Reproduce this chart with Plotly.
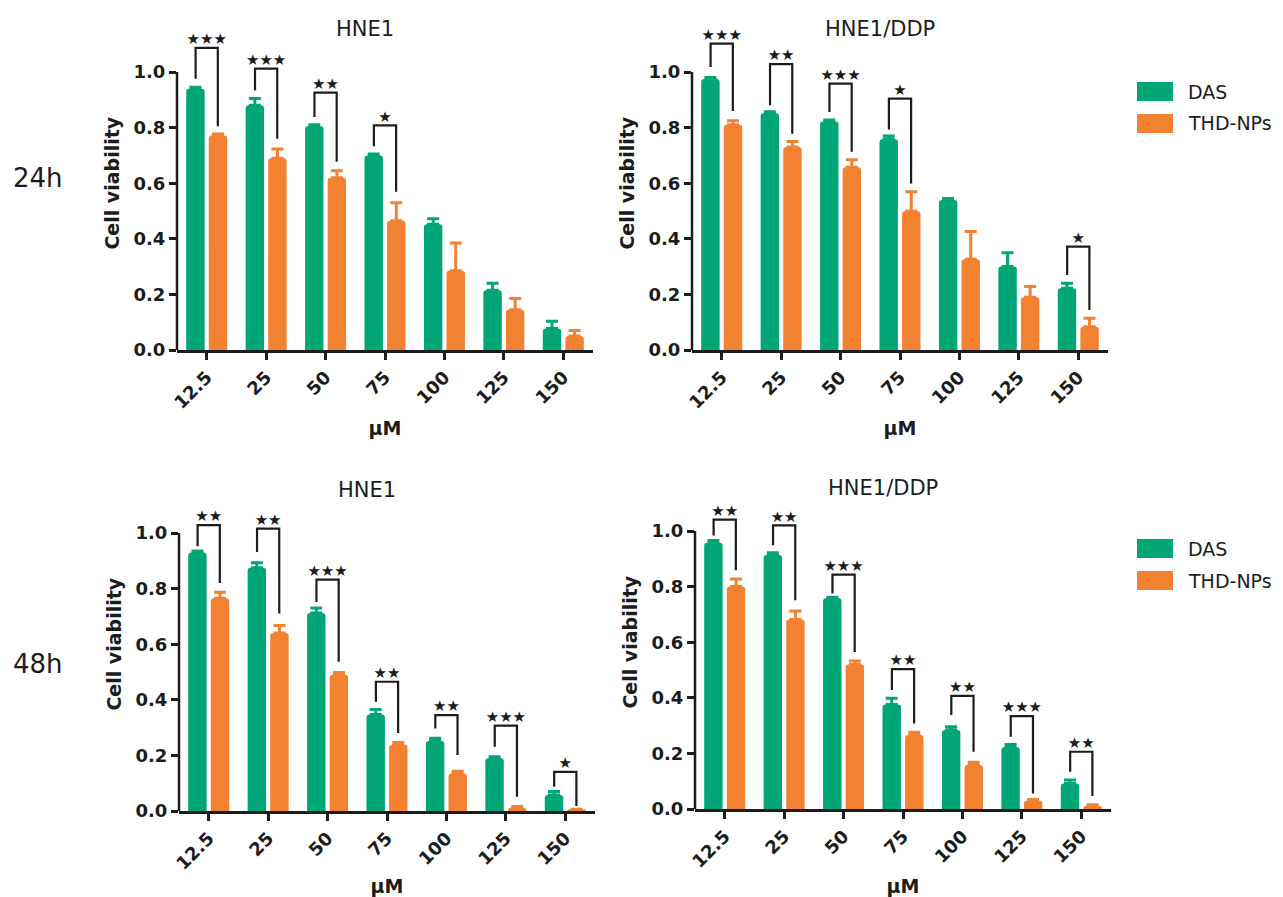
import plotly.graph_objects as go

# Concentrations (µM) on the x axis
conc_labels = ["12.5", "25", "50", "75", "100", "125", "150"]
y_ticks = [0.0, 0.2, 0.4, 0.6, 0.8, 1.0]

# ---- 24 h, HNE1 ----
das_24_hne1 = [0.94, 0.88, 0.805, 0.70, 0.452, 0.215, 0.077]
das_24_hne1_err = [0.005, 0.025, 0.005, 0.005, 0.02, 0.025, 0.026]
thd_24_hne1 = [0.772, 0.69, 0.62, 0.465, 0.285, 0.145, 0.05]
thd_24_hne1_err = [0.005, 0.033, 0.025, 0.065, 0.10, 0.04, 0.02]
# significance brackets: (group index, left leg end, bracket top, right leg end, label)
sig_24_hne1 = [(0, 0.976, 1.087, 0.805, "***"), (1, 0.934, 1.012, 0.76, "***"),
               (2, 0.838, 0.926, 0.677, "**"), (3, 0.733, 0.808, 0.569, "*")]

# ---- 24 h, HNE1/DDP ----
das_24_ddp = [0.975, 0.852, 0.822, 0.758, 0.54, 0.30, 0.222]
das_24_ddp_err = [0.005, 0.005, 0.005, 0.012, 0.005, 0.05, 0.018]
thd_24_ddp = [0.81, 0.73, 0.657, 0.499, 0.326, 0.19, 0.084]
thd_24_ddp_err = [0.015, 0.02, 0.027, 0.07, 0.10, 0.038, 0.03]
sig_24_ddp = [(0, 1.018, 1.102, 0.86, "***"), (1, 0.88, 1.028, 0.778, "**"),
              (2, 0.856, 0.958, 0.713, "***"), (3, 0.793, 0.904, 0.599, "*"),
              (6, 0.27, 0.372, 0.144, "*")]

# ---- 48 h, HNE1 ----
das_48_hne1 = [0.93, 0.875, 0.712, 0.347, 0.252, 0.19, 0.058]
das_48_hne1_err = [0.005, 0.018, 0.018, 0.018, 0.01, 0.005, 0.012]
thd_48_hne1 = [0.765, 0.64, 0.49, 0.238, 0.135, 0.012, 0.004]
thd_48_hne1_err = [0.022, 0.027, 0.008, 0.008, 0.008, 0.004, 0.002]
sig_48_hne1 = [(0, 0.952, 1.028, 0.82, "**"), (1, 0.932, 1.016, 0.71, "**"),
               (2, 0.752, 0.832, 0.537, "***"), (3, 0.393, 0.465, 0.281, "**"),
               (4, 0.297, 0.345, 0.201, "**"), (5, 0.231, 0.307, 0.051, "***"),
               (6, 0.087, 0.141, 0.018, "*")]

# ---- 48 h, HNE1/DDP ----
das_48_ddp = [0.958, 0.914, 0.758, 0.376, 0.284, 0.222, 0.092]
das_48_ddp_err = [0.008, 0.008, 0.004, 0.022, 0.012, 0.01, 0.012]
thd_48_ddp = [0.80, 0.682, 0.52, 0.266, 0.158, 0.03, 0.012]
thd_48_ddp_err = [0.027, 0.03, 0.012, 0.01, 0.01, 0.004, 0.003]
sig_48_ddp = [(0, 0.984, 1.041, 0.859, "**"), (1, 0.949, 1.020, 0.751, "**"),
              (2, 0.775, 0.843, 0.565, "***"), (3, 0.428, 0.503, 0.308, "**"),
              (4, 0.338, 0.407, 0.206, "**"), (5, 0.260, 0.334, 0.056, "***"),
              (6, 0.134, 0.206, 0.047, "**")]

GREEN = "#00A676"
ORANGE = "#F28131"
INK = "#1c1c1c"
FONT = "DejaVu Sans, Verdana, sans-serif"

W, H = 1283, 897
Y_TOP = 1.2          # headroom above 1.0 for the significance brackets
PX_PER_UNIT = 278    # plot height in pixels for a viability of 1.0

# subplot boxes in pixels: (left, right, y-pixel of 0.0)
boxes = [
    (177, 593, 350),
    (692, 1108, 350),
    (179, 595, 811),
    (695, 1111, 809),
]

panels = [
    ("HNE1", das_24_hne1, das_24_hne1_err, thd_24_hne1, thd_24_hne1_err, sig_24_hne1),
    ("HNE1/DDP", das_24_ddp, das_24_ddp_err, thd_24_ddp, thd_24_ddp_err, sig_24_ddp),
    ("HNE1", das_48_hne1, das_48_hne1_err, thd_48_hne1, thd_48_hne1_err, sig_48_hne1),
    ("HNE1/DDP", das_48_ddp, das_48_ddp_err, thd_48_ddp, thd_48_ddp_err, sig_48_ddp),
]

BAR_W = 0.31
LEG_OFF = 0.187

fig = go.Figure()
annotations = []
shapes = []
xs = list(range(len(conc_labels)))

for k, (title, das, das_err, thd, thd_err, sig) in enumerate(panels):
    n = "" if k == 0 else str(k + 1)
    xa, ya = "x" + n, "y" + n
    for vals, errs, color, off in ((das, das_err, GREEN, -0.345), (thd, thd_err, ORANGE, 0.035)):
        fig.add_trace(go.Bar(
            x=xs, y=vals, xaxis=xa, yaxis=ya, width=BAR_W, offset=off,
            marker=dict(color=color, line=dict(width=0), cornerradius=3),
            error_y=dict(type="data", array=errs, arrayminus=[0] * len(errs),
                         symmetric=False, color=color, thickness=3, width=6),
            showlegend=False,
        ))
    # significance brackets
    bx, by = [], []
    for i, yl, yt, yr, _ in sig:
        bx += [i - LEG_OFF, i - LEG_OFF, i + LEG_OFF, i + LEG_OFF, None]
        by += [yl, yt, yt, yr, None]
    fig.add_trace(go.Scatter(x=bx, y=by, xaxis=xa, yaxis=ya, mode="lines",
                             line=dict(color=INK, width=2.2),
                             showlegend=False, hoverinfo="skip"))
    fig.add_trace(go.Scatter(
        x=[s[0] for s in sig], y=[s[2] for s in sig], xaxis=xa, yaxis=ya,
        mode="text", text=[s[4].replace("*", "★") for s in sig],
        textposition="top center",
        textfont=dict(family="DejaVu Sans", size=15, color=INK),
        cliponaxis=False, showlegend=False, hoverinfo="skip"))

    l, r, b = boxes[k]
    t_full = b - Y_TOP * PX_PER_UNIT
    axis_common = dict(ticks="outside", tickcolor=INK, tickwidth=2.5, ticklen=7,
                       showgrid=False, zeroline=False, automargin=False,
                       tickfont=dict(family=FONT, size=18, color=INK, weight="bold"))
    fig.layout["xaxis" + n] = dict(
        axis_common, domain=[l / W, r / W], anchor=ya, range=[-0.5, 6.5],
        showline=True, linecolor=INK, linewidth=2.5,
        tickmode="array", tickvals=xs, ticktext=conc_labels, tickangle=-45,
        title=dict(text="μM", standoff=10,
                   font=dict(family=FONT, size=19, color=INK, weight="bold")))
    fig.layout["yaxis" + n] = dict(
        axis_common, domain=[1 - b / H, 1 - t_full / H], anchor=xa, range=[0, Y_TOP],
        showline=False,
        tickmode="array", tickvals=y_ticks, tickformat=".1f",
        title=dict(text="Cell viability", standoff=8,
                   font=dict(family=FONT, size=19, color=INK, weight="bold")))
    # y axis line only spans 0.0 – 1.0
    shapes.append(dict(type="line", xref=xa + " domain", yref=ya,
                       x0=0, x1=0, y0=0, y1=1.0, line=dict(color=INK, width=2.5)))
    t = b - PX_PER_UNIT
    annotations.append(dict(
        text=title, x=((l + r) / 2 - 20) / W, y=1 - (t - 43) / H,
        xref="paper", yref="paper", xanchor="center", yanchor="middle",
        showarrow=False, font=dict(family=FONT, size=21, color=INK)))

# row labels
for label, yc in (("24h", 178), ("48h", 664)):
    annotations.append(dict(text=label, x=38 / W, y=1 - yc / H, xref="paper", yref="paper",
                            xanchor="center", yanchor="middle", showarrow=False,
                            font=dict(family=FONT, size=26, color=INK)))

# legends
for top in (82, 539):
    for j, (name, color) in enumerate((("DAS", GREEN), ("THD-NPs", ORANGE))):
        y0 = top + j * 32
        shapes.append(dict(type="rect", xref="paper", yref="paper",
                           x0=1137 / W, x1=1173 / W, y0=1 - (y0 + 19) / H, y1=1 - y0 / H,
                           fillcolor=color, line=dict(width=0)))
        annotations.append(dict(text=name, x=1186 / W, y=1 - (y0 + 9.5) / H,
                                xref="paper", yref="paper", xanchor="left", yanchor="middle",
                                showarrow=False, font=dict(family=FONT, size=19, color=INK)))

fig.update_layout(
    width=W, height=H, margin=dict(l=0, r=0, t=0, b=0, autoexpand=False),
    paper_bgcolor="white", plot_bgcolor="white",
    barmode="overlay", showlegend=False,
    annotations=annotations, shapes=shapes,
)

fig.write_html("out.html")
